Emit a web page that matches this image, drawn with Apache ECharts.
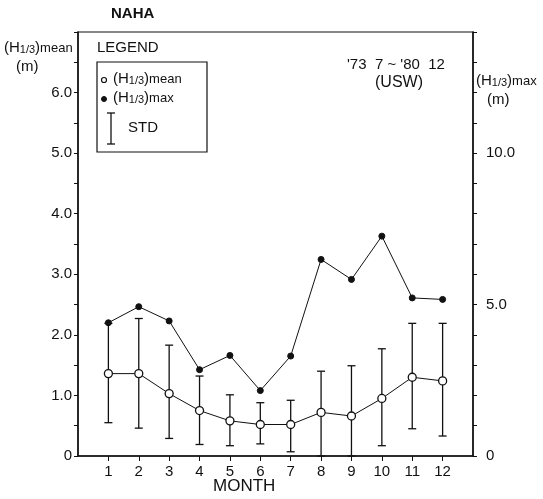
<!DOCTYPE html>
<html>
<head>
<meta charset="utf-8">
<script src="https://cdn.jsdelivr.net/npm/echarts@6/dist/echarts.min.js"></script>
<style>
html,body{margin:0;padding:0;background:#fff;}
#chart{width:543px;height:499px;}
</style>
</head>
<body>
<div id="chart"></div>
<script>
// ---- data ----
const months = [1, 2, 3, 4, 5, 6, 7, 8, 9, 10, 11, 12];
const meanValues = [1.36, 1.36, 1.03, 0.75, 0.58, 0.52, 0.52, 0.72, 0.66, 0.95, 1.30, 1.24];
const stdHigh = [2.19, 2.27, 1.83, 1.32, 1.01, 0.88, 0.92, 1.40, 1.49, 1.77, 2.19, 2.19];
const stdLow = [0.55, 0.46, 0.29, 0.19, 0.17, 0.20, 0.07, 0.00, 0.00, 0.17, 0.45, 0.33];
const maxValues = [4.40, 4.93, 4.46, 2.85, 3.32, 2.16, 3.30, 6.49, 5.83, 7.26, 5.22, 5.17];
const leftTickLabels = [0, 1, 2, 3, 4, 5, 6];
const rightTickLabels = [0, 5, 10];

const FONT = 'Liberation Sans';
const chart = echarts.init(document.getElementById('chart'));

const meanData = months.map((m, i) => [m, meanValues[i]]);
const maxData = months.map((m, i) => [m, maxValues[i]]);
const stdData = months.map((m, i) => [m, stdLow[i], stdHigh[i]]);

const richLabel = {
  a: { fontSize: 15, fontFamily: FONT, color: '#111', verticalAlign: 'bottom', lineHeight: 18 },
  s: { fontSize: 11, fontFamily: FONT, color: '#111', verticalAlign: 'bottom', lineHeight: 16 },
  b: { fontSize: 13, fontFamily: FONT, color: '#111', verticalAlign: 'bottom', lineHeight: 12 }
};
function hText(sub) { return '{a|(H}{s|1/3}{a|)}{b|' + sub + '}'; }

function txt(x, y, text, size, extra) {
  return Object.assign({
    type: 'text', left: x, top: y, z: 100,
    style: Object.assign({ text: text, fontSize: size, fontFamily: FONT, fill: '#111' }, extra || {})
  });
}

const option = {
  backgroundColor: '#fff',
  animation: false,
  grid: { left: 78, right: 70, top: 32, bottom: 43, show: true, borderColor: '#111', borderWidth: 1.2, backgroundColor: 'transparent' },
  xAxis: {
    type: 'value', min: 0, max: 13, interval: 1,
    splitLine: { show: false },
    axisLine: { lineStyle: { color: '#111', width: 1.5 } },
    axisTick: { show: true, length: 5, inside: false, customValues: months, lineStyle: { color: '#111' } },
    axisLabel: { customValues: months, margin: 8, fontSize: 15, fontFamily: FONT, color: '#111' }
  },
  yAxis: [
    {
      type: 'value', min: 0, max: 7, interval: 0.5, position: 'left',
      splitLine: { show: false },
      axisLine: { show: true, lineStyle: { color: '#111', width: 1.5 } },
      axisTick: { show: true, length: 4, lineStyle: { color: '#111' } },
      axisLabel: {
        margin: 6, fontSize: 15, fontFamily: FONT, color: '#111',
        formatter: v => (leftTickLabels.indexOf(v) >= 0 ? (v === 0 ? '0' : v.toFixed(1)) : '')
      }
    },
    {
      type: 'value', min: 0, max: 14, interval: 1, position: 'right',
      splitLine: { show: false },
      axisLine: { show: true, lineStyle: { color: '#111', width: 1.5 } },
      axisTick: { show: true, length: 4, lineStyle: { color: '#111' } },
      axisLabel: {
        margin: 13, fontSize: 15, fontFamily: FONT, color: '#111',
        formatter: v => (rightTickLabels.indexOf(v) >= 0 ? (v === 0 ? '0' : v.toFixed(1)) : '')
      }
    }
  ],
  series: [
    {
      name: 'STD', type: 'custom', yAxisIndex: 0, z: 2,
      data: stdData,
      renderItem: function (params, api) {
        const x = api.value(0);
        const lo = api.coord([x, api.value(1)]);
        const hi = api.coord([x, api.value(2)]);
        const hw = 4;
        const st = { stroke: '#111', lineWidth: 1.3 };
        return {
          type: 'group',
          children: [
            { type: 'line', shape: { x1: lo[0], y1: lo[1], x2: hi[0], y2: hi[1] }, style: st },
            { type: 'line', shape: { x1: hi[0] - hw, y1: hi[1], x2: hi[0] + hw, y2: hi[1] }, style: st },
            { type: 'line', shape: { x1: lo[0] - hw, y1: lo[1], x2: lo[0] + hw, y2: lo[1] }, style: st }
          ]
        };
      }
    },
    {
      name: 'max', type: 'line', yAxisIndex: 1, z: 3,
      data: maxData,
      symbol: 'circle', symbolSize: 6,
      lineStyle: { color: '#111', width: 1 },
      itemStyle: { color: '#111', borderColor: '#111', borderWidth: 1 }
    },
    {
      name: 'mean', type: 'line', yAxisIndex: 0, z: 4,
      data: meanData,
      symbol: 'circle', symbolSize: 8,
      lineStyle: { color: '#111', width: 1 },
      itemStyle: { color: '#fff', borderColor: '#111', borderWidth: 1.3 }
    }
  ],
  graphic: [
    txt(111, 6, 'NAHA', 15, { fontWeight: 'bold' }),
    txt(4, 40, hText('mean'), 15, { rich: richLabel }),
    txt(16, 59, '(m)', 15),
    txt(97, 40, 'LEGEND', 15),
    { type: 'rect', z: 100, shape: { x: 97, y: 62, width: 110, height: 90 }, style: { fill: '#fff', stroke: '#111', lineWidth: 1.2 } },
    { type: 'circle', z: 101, shape: { cx: 104, cy: 80, r: 2.5 }, style: { fill: '#fff', stroke: '#111', lineWidth: 1.2 } },
    txt(113, 71, hText('mean'), 15, { rich: richLabel }),
    { type: 'circle', z: 101, shape: { cx: 104, cy: 99, r: 2.5 }, style: { fill: '#111', stroke: '#111', lineWidth: 1 } },
    txt(113, 90, hText('max'), 15, { rich: richLabel }),
    { type: 'line', z: 101, shape: { x1: 111, y1: 113, x2: 111, y2: 144 }, style: { stroke: '#111', lineWidth: 1.3 } },
    { type: 'line', z: 101, shape: { x1: 107, y1: 113, x2: 115, y2: 113 }, style: { stroke: '#111', lineWidth: 1.3 } },
    { type: 'line', z: 101, shape: { x1: 107, y1: 144, x2: 115, y2: 144 }, style: { stroke: '#111', lineWidth: 1.3 } },
    txt(128, 120, 'STD', 15),
    txt(347, 57, "'73  7 ~ '80  12", 15),
    txt(375, 75, '(USW)', 16),
    txt(476, 73, hText('max'), 15, { rich: richLabel }),
    txt(487, 92, '(m)', 15),
    txt(213, 478, 'MONTH', 17)
  ]
};
chart.setOption(option);
</script>
</body>
</html>
